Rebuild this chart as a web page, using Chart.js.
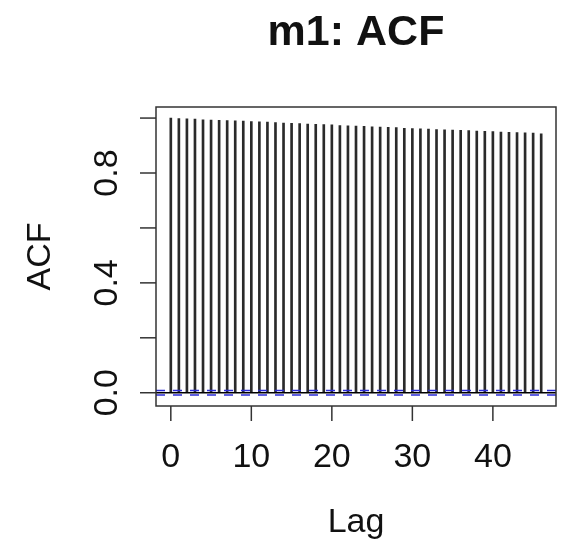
<!DOCTYPE html>
<html lang="en">
<head>
<meta charset="UTF-8" />
<title>m1: ACF</title>
<script src="https://cdn.jsdelivr.net/npm/chart.js"></script>
<style>
  html, body { margin: 0; padding: 0; background: #fff; }
  #wrap { width: 561px; height: 541px; }
</style>
</head>
<body>
<div id="wrap"><canvas id="acfChart" width="561" height="541"></canvas></div>
<script>
  // lags and autocorrelations
  const lags = [0, 1, 2, 3, 4, 5, 6, 7, 8, 9, 10, 11, 12, 13, 14, 15, 16, 17, 18, 19, 20, 21, 22, 23,
    24, 25, 26, 27, 28, 29, 30, 31, 32, 33, 34, 35, 36, 37, 38, 39, 40, 41, 42, 43, 44, 45, 46];
  const acfValues = [1.000, 0.998, 0.997, 0.996, 0.994, 0.993, 0.992, 0.991, 0.990, 0.989, 0.987, 0.986,
    0.985, 0.984, 0.982, 0.981, 0.980, 0.978, 0.977, 0.976, 0.975, 0.973, 0.972, 0.971, 0.970, 0.968,
    0.967, 0.966, 0.965, 0.963, 0.962, 0.961, 0.960, 0.958, 0.957, 0.956, 0.955, 0.954, 0.953, 0.952,
    0.951, 0.949, 0.948, 0.947, 0.946, 0.945, 0.943];
  const confLimit = 0.008;

  const xTicks = [0, 10, 20, 30, 40];
  const xTickLabels = ['0', '10', '20', '30', '40'];
  const yTicks = [0, 0.2, 0.4, 0.6, 0.8, 1.0];
  const yTickLabels = ['0.0', '', '0.4', '', '0.8', ''];

  const titleText = 'm1: ACF';
  const xTitle = 'Lag';
  const yTitle = 'ACF';

  const FONT = '"Liberation Sans", Arial, Helvetica, sans-serif';

  const rStylePlugin = {
    id: 'rStyle',
    afterDatasetsDraw(chart) {
      const ctx = chart.ctx;
      const a = chart.chartArea;
      const y = chart.scales.y;
      ctx.save();
      ctx.beginPath();
      ctx.rect(a.left, a.top, a.right - a.left, a.bottom - a.top);
      ctx.clip();
      // zero line
      ctx.strokeStyle = '#000';
      ctx.lineWidth = 1.5;
      ctx.beginPath();
      ctx.moveTo(a.left, y.getPixelForValue(0));
      ctx.lineTo(a.right, y.getPixelForValue(0));
      ctx.stroke();
      // confidence bands
      ctx.strokeStyle = '#2b2bd6';
      ctx.lineWidth = 1.5;
      ctx.setLineDash([9, 8]);
      [confLimit, -confLimit].forEach(v => {
        const py = y.getPixelForValue(v);
        ctx.beginPath();
        ctx.moveTo(a.left, py);
        ctx.lineTo(a.right, py);
        ctx.stroke();
      });
      ctx.restore();
    },
    afterDraw(chart) {
      const ctx = chart.ctx;
      const a = chart.chartArea;
      const xs = chart.scales.x;
      const ys = chart.scales.y;
      ctx.save();
      ctx.strokeStyle = '#333';
      ctx.lineWidth = 1.5;
      ctx.strokeRect(a.left, a.top, a.right - a.left, a.bottom - a.top);

      ctx.fillStyle = '#111';
      // x axis ticks and labels
      ctx.font = '34px ' + FONT;
      ctx.textAlign = 'center';
      ctx.textBaseline = 'alphabetic';
      xTicks.forEach((v, i) => {
        const px = xs.getPixelForValue(v);
        ctx.beginPath();
        ctx.moveTo(px, a.bottom);
        ctx.lineTo(px, a.bottom + 15);
        ctx.stroke();
        ctx.fillText(xTickLabels[i], px, 467);
      });

      // y axis ticks and rotated labels
      yTicks.forEach((v, i) => {
        const py = ys.getPixelForValue(v);
        ctx.beginPath();
        ctx.moveTo(a.left - 16, py);
        ctx.lineTo(a.left, py);
        ctx.stroke();
        if (yTickLabels[i]) {
          ctx.save();
          ctx.translate(117, py);
          ctx.rotate(-Math.PI / 2);
          ctx.fillText(yTickLabels[i], 0, 0);
          ctx.restore();
        }
      });

      // axis titles
      ctx.fillText(xTitle, (a.left + a.right) / 2, 532);
      ctx.save();
      ctx.translate(50, (a.top + a.bottom) / 2);
      ctx.rotate(-Math.PI / 2);
      ctx.fillText(yTitle, 0, 0);
      ctx.restore();

      // main title
      ctx.font = 'bold 43px ' + FONT;
      ctx.fillText(titleText, (a.left + a.right) / 2, 45);
      ctx.restore();
    }
  };

  const ctx = document.getElementById('acfChart').getContext('2d');
  new Chart(ctx, {
    type: 'bar',
    data: {
      datasets: [{
        data: lags.map((l, i) => ({ x: l, y: acfValues[i] })),
        backgroundColor: '#2a2a2a',
        borderWidth: 0,
        barThickness: 2
      }]
    },
    options: {
      responsive: false,
      animation: false,
      devicePixelRatio: 1,
      layout: { padding: { left: 156, right: 5, top: 107, bottom: 135 } },
      scales: {
        x: { type: 'linear', min: -1.84, max: 47.84, offset: false, display: false },
        y: { type: 'linear', min: -0.0483, max: 1.0403, display: false }
      },
      plugins: {
        legend: { display: false },
        tooltip: { enabled: false }
      }
    },
    plugins: [rStylePlugin]
  });
</script>
</body>
</html>
